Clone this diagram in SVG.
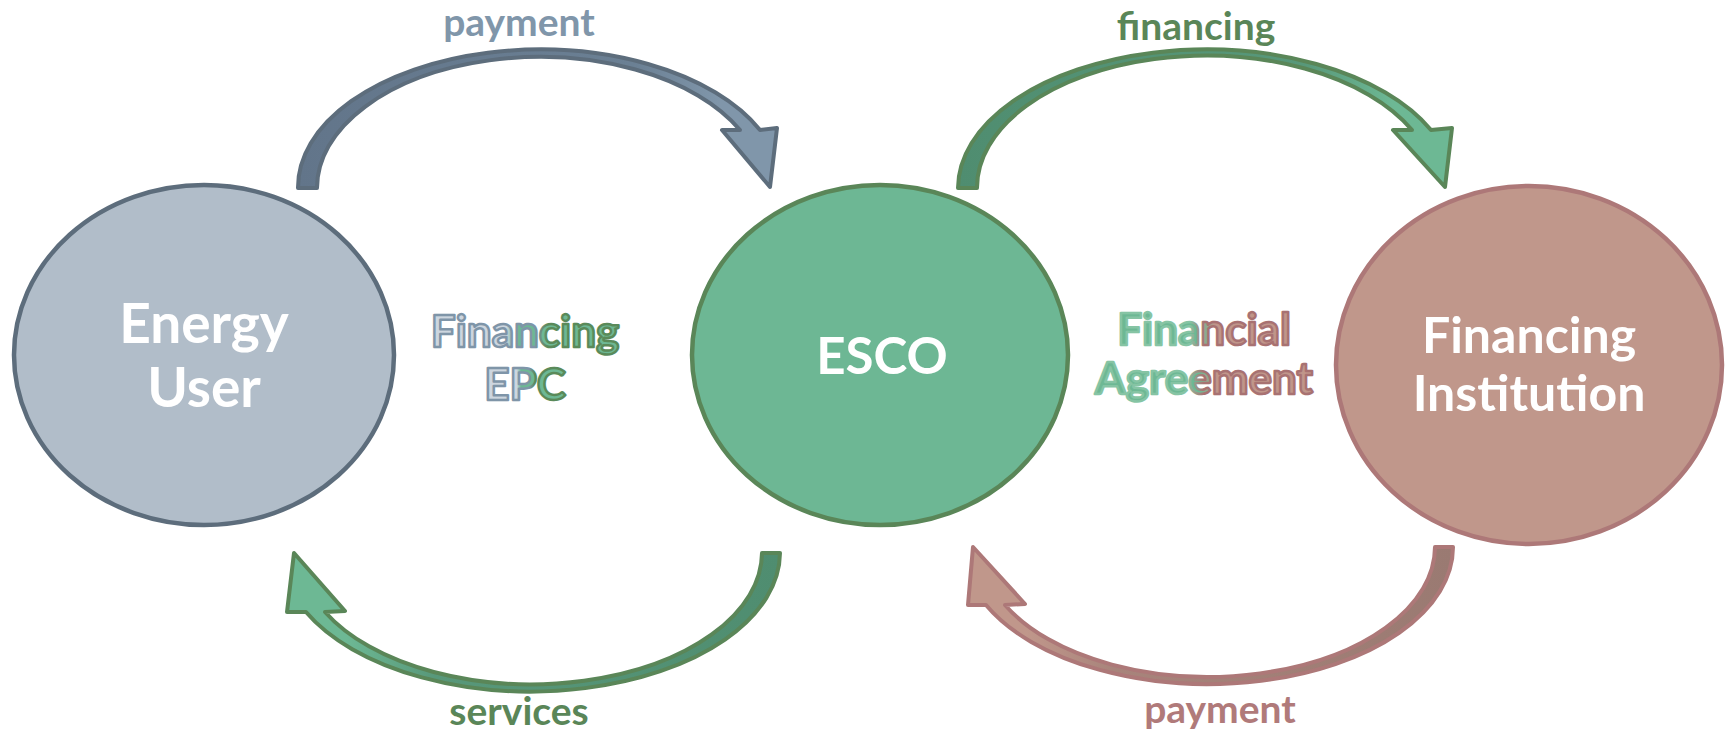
<svg xmlns="http://www.w3.org/2000/svg" width="1727" height="733" viewBox="0 0 1727 733">
<defs>
<style>
.node{stroke-width:4.5}
.ntext{font-family:Lato,"Open Sans","Liberation Sans",sans-serif;font-weight:700;fill:#ffffff;text-anchor:middle}
.lbl{font-family:Lato,"Open Sans","Liberation Sans",sans-serif;font-weight:700;font-size:39px;text-anchor:middle}
.arrow{stroke-width:4;stroke-linejoin:round}
.mid{font-family:Lato,"Open Sans","Liberation Sans",sans-serif;font-weight:700;font-size:44px;text-anchor:middle;stroke-width:2.5;stroke-linejoin:round}
</style>
<linearGradient id="gSlate" x1="0" y1="0" x2="1" y2="0">
<stop offset="0" stop-color="#62758a"/><stop offset="0.7" stop-color="#6b8094"/><stop offset="0.88" stop-color="#8096aa"/><stop offset="1" stop-color="#8096aa"/>
</linearGradient>
<linearGradient id="gGreen" x1="0" y1="0" x2="1" y2="0">
<stop offset="0" stop-color="#4f8d70"/><stop offset="0.7" stop-color="#58987a"/><stop offset="0.88" stop-color="#6db894"/><stop offset="1" stop-color="#6db894"/>
</linearGradient>
<linearGradient id="gGreenR" x1="1" y1="0" x2="0" y2="0">
<stop offset="0" stop-color="#4f8d70"/><stop offset="0.7" stop-color="#58987a"/><stop offset="0.88" stop-color="#6db894"/><stop offset="1" stop-color="#6db894"/>
</linearGradient>
<linearGradient id="gRoseR" x1="1" y1="0" x2="0" y2="0">
<stop offset="0" stop-color="#9a7a72"/><stop offset="0.7" stop-color="#a8847b"/><stop offset="0.88" stop-color="#c0978b"/><stop offset="1" stop-color="#c0978b"/>
</linearGradient>
<linearGradient id="fEPC" x1="0" y1="0" x2="1" y2="0">
<stop offset="0" stop-color="#cdd6df"/><stop offset="0.4" stop-color="#cdd6df"/><stop offset="0.45" stop-color="#6db894"/><stop offset="1" stop-color="#6db894"/>
</linearGradient>
<linearGradient id="sEPC" x1="0" y1="0" x2="1" y2="0">
<stop offset="0" stop-color="#7f95a8"/><stop offset="0.55" stop-color="#7f95a8"/><stop offset="0.62" stop-color="#5a8a5a"/><stop offset="1" stop-color="#5a8a5a"/>
</linearGradient>
<linearGradient id="fFA" x1="0" y1="0" x2="1" y2="0">
<stop offset="0" stop-color="#6db894"/><stop offset="0.48" stop-color="#6db894"/><stop offset="0.56" stop-color="#c0968a"/><stop offset="1" stop-color="#c0968a"/>
</linearGradient>
<linearGradient id="sFA" x1="0" y1="0" x2="1" y2="0">
<stop offset="0" stop-color="#86c4a4"/><stop offset="0.42" stop-color="#86c4a4"/><stop offset="0.5" stop-color="#a87272"/><stop offset="1" stop-color="#a87272"/>
</linearGradient>
</defs>
<rect width="1727" height="733" fill="#ffffff"/>

<g id="energy-user">
<ellipse class="node" cx="204" cy="355" rx="190" ry="170" fill="#b1bdc9" stroke="#5d6d7c"/>
<text class="ntext" font-size="55" x="204" y="343">Energy</text>
<text class="ntext" font-size="55" x="204" y="407">User</text>
</g>

<g id="esco">
<ellipse class="node" cx="880" cy="355" rx="188" ry="170" fill="#6db794" stroke="#5a8658"/>
<text class="ntext" font-size="51" x="882" y="374">ESCO</text>
</g>

<g id="financing-institution">
<ellipse class="node" cx="1529" cy="365" rx="193" ry="179" fill="#c0978b" stroke="#ad7878"/>
<text class="ntext" font-size="50" x="1529" y="353">Financing</text>
<text class="ntext" font-size="50" x="1529" y="411">Institution</text>
</g>

<g id="label-financing-epc">
<text class="mid" x="525" y="347" fill="url(#fEPC)" stroke="url(#sEPC)">Financing</text>
<text class="mid" x="525" y="400" fill="url(#fEPC)" stroke="url(#sEPC)">EPC</text>
</g>

<g id="label-financial-agreement">
<text class="mid" x="1204" y="345" fill="url(#fFA)" stroke="url(#sFA)">Financial</text>
<text class="mid" x="1204" y="394" fill="url(#fFA)" stroke="url(#sFA)">Agreement</text>
</g>

<g id="connectors">
<g id="payment-user-esco">
<path class="arrow" fill="url(#gSlate)" stroke="#5d6d7c" d="M298,188 A242,138 0 0 1 760,130 L777,128 L770,187 L722,130 L740,130 A223,131 0 0 0 317,188 Z"/>
<text class="lbl" x="519" y="36" fill="#8096aa">payment</text>
</g>
<g id="financing-esco-fi">
<path class="arrow" fill="url(#gGreen)" stroke="#5a8658" d="M958,188 A248,139 0 0 1 1431,130 L1452,128 L1445,187 L1393,130 L1412,130 A229,132 0 0 0 977,188 Z"/>
<text class="lbl" x="1196" y="40" fill="#5a8658">financing</text>
</g>
<g id="services-esco-user">
<path class="arrow" fill="url(#gGreenR)" stroke="#5a8658" d="M780,553 A249,139 0 0 1 306,612 L287,612 L294,553 L345,611 L325,612 A231,132 0 0 0 762,553 Z"/>
<text class="lbl" x="519" y="725" fill="#5a8658">services</text>
</g>
<g id="payment-fi-esco">
<path class="arrow" fill="url(#gRoseR)" stroke="#ad7878" d="M1453,547 A245,137 0 0 1 986,605 L968,605 L973,547 L1025,604 L1005,605 A227,130 0 0 0 1435,547 Z"/>
<text class="lbl" x="1220" y="723" fill="#b07a7a">payment</text>
</g>
</g>
</svg>
